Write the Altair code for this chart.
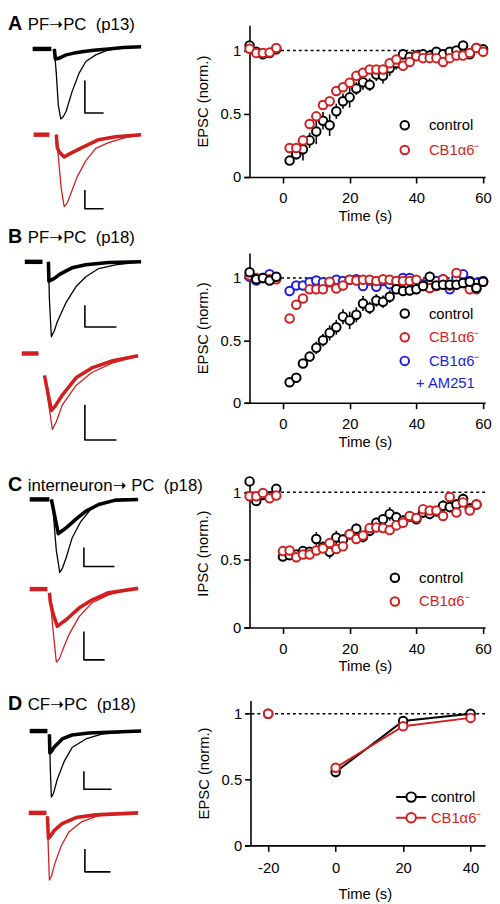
import altair as alt
import pandas as pd

FONT = "Liberation Sans"
BLACK = "#000000"
RED = "#d11f1f"
BLUE = "#1d1dd6"

CTRL = "control"
CB1 = "CB1α6⁻"
CB1AM = "CB1α6⁻ + AM251"
COLORS = {CTRL: BLACK, CB1: RED, CB1AM: BLUE}

# ---------------- right-hand panels: time (s) ----------------
T_AB = [-10, -8, -6, -4, -2, 2, 4, 6, 8, 10, 12, 14, 16, 18, 20, 22, 24, 26, 28, 30,
        32, 34, 36, 38, 40, 42, 44, 46, 48, 50, 52, 54, 56, 58, 60]
T_C = [-10, -8, -6, -4, -2, 0, 2, 4, 6, 8, 10, 12, 14, 16, 18, 20, 22, 24, 26, 28,
       30, 32, 34, 36, 38, 40, 42, 44, 46, 48, 50, 52, 54, 56, 58]
T_D = [-20, 0, 20, 40]

# Panel A: PF->PC (p13), EPSC (norm.)
A_CTRL = [1.04, 0.99, 0.97, 0.98, 1.01,
          0.13, 0.18, 0.22, 0.29, 0.36, 0.445, 0.41, 0.52, 0.60, 0.63,
          0.70, 0.75, 0.73, 0.81, 0.80, 0.86, 0.90, 0.97, 0.95, 0.96,
          0.97, 0.96, 0.99, 0.97, 0.99, 1.00, 1.04, 0.97, 1.02, 1.01]
A_CTRL_SEM = [0.03, 0.02, 0.02, 0.02, 0.02,
              0.03, 0.04, 0.09, 0.06, 0.10, 0.07, 0.085, 0.06, 0.06, 0.08,
              0.05, 0.06, 0.05, 0.05, 0.06, 0.06, 0.05, 0.04, 0.04, 0.04,
              0.04, 0.04, 0.03, 0.03, 0.03, 0.03, 0.03, 0.03, 0.03, 0.03]
A_CB1 = [1.015, 0.98, 0.98, 0.985, 1.02,
         0.23, 0.23, 0.29, 0.42, 0.48, 0.57, 0.60, 0.68, 0.71, 0.745,
         0.80, 0.825, 0.85, 0.85, 0.85, 0.90, 0.93, 0.88, 0.91, 0.955,
         0.94, 0.94, 0.94, 0.91, 0.94, 0.96, 0.96, 0.98, 1.02, 0.99]
A_CB1_SEM = [0.02, 0.02, 0.02, 0.02, 0.02,
             0.03, 0.03, 0.03, 0.04, 0.03, 0.04, 0.03, 0.03, 0.03, 0.03,
             0.03, 0.03, 0.03, 0.03, 0.03, 0.03, 0.03, 0.03, 0.03, 0.03,
             0.03, 0.03, 0.03, 0.03, 0.03, 0.03, 0.03, 0.03, 0.03, 0.03]

# Panel B: PF->PC (p18), EPSC (norm.)
B_CTRL = [1.045, 0.99, 1.00, 0.98, 1.01,
          0.165, 0.20, 0.315, 0.37, 0.44, 0.50, 0.56, 0.605, 0.69, 0.66,
          0.705, 0.795, 0.76, 0.82, 0.81, 0.85, 0.91, 0.895, 0.90, 0.91,
          0.935, 1.01, 0.94, 0.945, 0.945, 0.945, 0.96, 0.97, 0.92, 0.97]
B_CTRL_SEM = [0.02, 0.02, 0.02, 0.02, 0.02,
              0.02, 0.02, 0.03, 0.04, 0.05, 0.05, 0.06, 0.06, 0.06, 0.07,
              0.06, 0.06, 0.05, 0.05, 0.05, 0.05, 0.04, 0.04, 0.04, 0.04,
              0.04, 0.04, 0.03, 0.03, 0.03, 0.03, 0.03, 0.03, 0.04, 0.03]
B_CB1 = [1.02, 1.00, 1.00, 0.99, 0.99,
         0.675, 0.785, 0.835, 0.91, 0.91, 0.91, 0.97, 0.915, 0.94, 0.985,
         0.98, 0.985, 0.985, 0.975, 0.99, 0.985, 0.975, 0.975, 0.975, 0.985,
         0.935, 0.92, 0.935, 0.99, 0.94, 1.04, 0.96, 0.91, 0.91, 0.97]
B_CB1_SEM = [0.015, 0.015, 0.015, 0.015, 0.015,
             0.02, 0.02, 0.02, 0.015, 0.015, 0.015, 0.015, 0.015, 0.015, 0.015,
             0.015, 0.015, 0.015, 0.015, 0.015, 0.015, 0.015, 0.015, 0.015, 0.015,
             0.015, 0.015, 0.015, 0.015, 0.015, 0.015, 0.015, 0.015, 0.015, 0.015]
B_AM = [1.01, 0.98, 1.00, 1.03, 1.00,
        0.895, 0.94, 0.94, 0.965, 0.98, 0.965, 0.965, 0.985, 0.975, 0.985,
        0.99, 0.935, 0.98, 0.93, 0.975, 0.95, 0.96, 1.00, 1.00, 0.96,
        0.95, 0.92, 0.975, 0.99, 0.91, 1.00, 1.03, 0.975, 0.96, 0.975]
B_AM_SEM = [0.015, 0.015, 0.015, 0.015, 0.015,
            0.015, 0.015, 0.015, 0.015, 0.015, 0.015, 0.015, 0.015, 0.015, 0.015,
            0.015, 0.015, 0.015, 0.015, 0.015, 0.015, 0.015, 0.015, 0.015, 0.015,
            0.015, 0.015, 0.015, 0.015, 0.015, 0.015, 0.015, 0.015, 0.015, 0.015]

# Panel C: interneuron->PC (p18), IPSC (norm.)
C_CTRL = [1.08, 0.935, 0.98, 0.97, 1.025,
          0.525, 0.535, 0.54, 0.565, 0.56, 0.655, 0.595, 0.56, 0.665, 0.65,
          0.69, 0.73, 0.67, 0.715, 0.775, 0.80, 0.84, 0.815, 0.79, 0.82,
          0.80, 0.85, 0.84, 0.86, 0.90, 0.89, 0.91, 0.95, 0.88, 0.91]
C_CTRL_SEM = [0.03, 0.03, 0.02, 0.02, 0.02,
              0.03, 0.03, 0.03, 0.03, 0.03, 0.05, 0.04, 0.05, 0.05, 0.04,
              0.04, 0.04, 0.04, 0.04, 0.04, 0.04, 0.05, 0.04, 0.04, 0.04,
              0.03, 0.04, 0.04, 0.04, 0.04, 0.04, 0.04, 0.04, 0.04, 0.04]
C_CB1 = [0.97, 0.97, 0.995, 0.955, 0.975,
         0.565, 0.57, 0.52, 0.54, 0.54, 0.57, 0.585, 0.625, 0.58, 0.60,
         0.69, 0.655, 0.68, 0.735, 0.74, 0.735, 0.72, 0.755, 0.775, 0.825,
         0.81, 0.875, 0.865, 0.865, 0.825, 0.965, 0.85, 0.925, 0.865, 0.91]
C_CB1_SEM = [0.025, 0.025, 0.025, 0.025, 0.025,
             0.025, 0.025, 0.025, 0.025, 0.025, 0.025, 0.025, 0.025, 0.025, 0.025,
             0.025, 0.025, 0.025, 0.025, 0.025, 0.025, 0.025, 0.025, 0.025, 0.025,
             0.025, 0.025, 0.025, 0.025, 0.025, 0.025, 0.025, 0.025, 0.025, 0.025]

# Panel D: CF->PC (p18), EPSC (norm.)
D_CTRL = [1.00, 0.557, 0.945, 1.00]
D_CTRL_SEM = [0.0, 0.04, 0.015, 0.01]
D_CB1 = [1.00, 0.59, 0.905, 0.968]
D_CB1_SEM = [0.0, 0.03, 0.015, 0.015]

# ---------------- left-hand example traces ----------------
# (time in ms from stimulus, current normalised to the larger response)
A_BLACK = {
    "dash": [(-11, 0), (-1.5, 0)],
    "thick": [(0, 0), (0.5, -0.14), (1.5, -0.14), (2.5, -0.13), (6, -0.085), (10, -0.06),
              (14, -0.04), (20, -0.02), (27.5, 0), (35, 0.02), (44, 0.03)],
    "thin": [(0, 0), (1, -0.35), (2, -0.8), (3.25, -1.0), (4.5, -0.97), (6, -0.89), (9, -0.61),
             (12.5, -0.35), (16, -0.18), (21, -0.085), (27.5, -0.015), (39, 0.03), (44, 0.03)],
    "bar": [(15.5, -0.45), (15.5, -0.915), (25, -0.915)],
}
A_RED = {
    "dash": [(-10.5, 0), (-2.5, 0)],
    "thick": [(1, 0), (1.5, -0.18), (2.5, -0.24), (5, -0.31), (7.5, -0.27), (14, -0.18),
              (22.5, -0.07), (31, -0.03), (44, 0)],
    "thin": [(1, 0), (2, -0.3), (3.5, -0.75), (5, -1.0), (6.5, -0.95), (8.5, -0.81), (11.5, -0.59),
             (16, -0.36), (21, -0.19), (27.5, -0.11), (36, -0.04), (44, -0.01)],
    "bar": [(15.5, -0.77), (15.5, -1.03), (25, -1.03)],
}
B_BLACK = {
    "dash": [(-11.5, 0), (-2.5, 0)],
    "thick": [(0.5, 0), (0.75, -0.26), (2, -0.24), (3.5, -0.22), (6, -0.17), (9.5, -0.12),
              (12.5, -0.08), (19.5, -0.04), (31, -0.01), (47.5, 0)],
    "thin": [(0.5, 0), (1, -0.5), (2, -1.0), (3.5, -0.92), (5, -0.8), (9.5, -0.54), (14.5, -0.33),
             (19.5, -0.2), (26, -0.09), (34.5, -0.04), (47.5, 0)],
    "bar": [(19, -0.58), (19, -0.87), (35, -0.87)],
}
B_RED = {
    "dash": [(-13, 0), (-4.5, 0)],
    "thick": [(-1.5, -0.29), (2, -0.75), (4, -0.69), (7.5, -0.55), (14.5, -0.32), (22.5, -0.19),
              (32.5, -0.1), (46, -0.03)],
    "thin": [(-1.5, -0.29), (2.5, -1.0), (4.5, -0.9), (7.5, -0.68), (14.5, -0.42), (22.5, -0.25),
             (32.5, -0.13), (46, -0.03)],
    "bar": [(19, -0.675), (19, -1.14), (35, -1.14)],
}
C_BLACK = {
    "dash": [(-10.5, 0), (-0.5, 0)],
    "thick": [(0.5, 0), (2, -0.2), (4, -0.47), (6, -0.43), (8, -0.39), (13, -0.27), (18, -0.16),
              (24.5, -0.07), (33, -0.01), (44.5, 0)],
    "thin": [(0.5, 0), (1.5, -0.2), (3, -0.7), (4.75, -1.0), (6, -0.95), (8, -0.8), (11, -0.53),
             (15.5, -0.3), (20.5, -0.135), (26, -0.05), (34.5, -0.01), (44.5, 0)],
    "bar": [(17, -0.66), (17, -0.92), (32.5, -0.92)],
}
C_RED = {
    "dash": [(-10.5, 0), (-1.5, 0)],
    "thick": [(-0.5, -0.05), (0, -0.18), (1.5, -0.35), (3.5, -0.51), (5.5, -0.47), (8, -0.42),
              (14.5, -0.26), (21, -0.15), (29.5, -0.05), (44.5, 0.01)],
    "thin": [(0, -0.18), (1.5, -0.6), (3, -1.0), (4.5, -0.96), (6, -0.85), (9.5, -0.62),
             (14.5, -0.38), (21, -0.19), (29.5, -0.08), (41, 0), (44.5, 0.01)],
    "bar": [(17, -0.58), (17, -0.97), (27.5, -0.97)],
}
D_BLACK = {
    "dash": [(-9.5, 0), (-0.5, 0)],
    "thick": [(0.5, -0.05), (0.75, -0.33), (1.5, -0.31), (3, -0.24), (7, -0.12), (12, -0.06),
              (20.5, -0.03), (47, 0)],
    "thin": [(0.5, -0.05), (1, -0.6), (1.5, -1.0), (2.5, -0.95), (4.5, -0.73), (8, -0.46),
             (12, -0.25), (19, -0.12), (27, -0.045), (39, -0.015), (47, 0)],
    "bar": [(18, -0.61), (18, -0.88), (32, -0.88)],
}
D_RED = {
    "dash": [(-10, 0), (-1, 0)],
    "thick": [(-0.5, -0.05), (0, -0.38), (1, -0.35), (3, -0.26), (7, -0.16), (14, -0.07),
              (24, -0.03), (45.5, 0)],
    "thin": [(-0.5, -0.05), (0, -0.6), (0.5, -1.0), (1.5, -0.95), (3, -0.78), (6.5, -0.49),
             (10.5, -0.28), (17, -0.13), (25.5, -0.04), (39, -0.015), (45.5, 0)],
    "bar": [(18.5, -0.54), (18.5, -0.88), (31.5, -0.88)],
}

LETTERS = ["A", "B", "C", "D"]
HEADINGS = ["PF\u279dPC\u00a0\u00a0(p13)", "PF\u279dPC\u00a0\u00a0(p18)",
            "interneuron\u279d PC\u00a0\u00a0(p18)", "CF\u279dPC\u00a0\u00a0(p18)"]


def trace_group(sets, color, tdom, yrange):
    rows = []
    for kind, pts in sets.items():
        for k, (t, i) in enumerate(pts):
            rows.append({"t": t, "i": i, "k": k, "kind": kind})
    df = pd.DataFrame(rows)
    x = alt.X("t:Q", scale=alt.Scale(domain=tdom, nice=False, zero=False), axis=None)
    y = alt.Y("i:Q", scale=alt.Scale(domain=[-1, 0], range=yrange, nice=False, zero=False), axis=None)
    styles = [("thin", 1.3, color), ("thick", 3.6, color), ("dash", 4.5, color), ("bar", 1.6, BLACK)]
    layers = []
    for kind, w, c in styles:
        layers.append(
            alt.Chart(df).transform_filter(alt.datum.kind == kind)
            .mark_line(color=c, strokeWidth=w, strokeJoin="round", strokeCap="butt")
            .encode(x=x, y=y, order="k:Q")
        )
    return alt.layer(*layers)


def trace_panel(idx, black, red, tdom, height, black_rng, red_rng, title_y):
    lab = pd.DataFrame({"letter": [LETTERS[idx]], "heading": [HEADINGS[idx]]})
    t1 = alt.Chart(lab).mark_text(align="left", baseline="alphabetic", font=FONT, fontSize=20,
                                  fontWeight="bold", color=BLACK).encode(
        x=alt.value(0), y=alt.value(title_y), text="letter:N")
    t2 = alt.Chart(lab).mark_text(align="left", baseline="alphabetic",
                                  font="Liberation Sans, DejaVu Sans", fontSize=17,
                                  color=BLACK).encode(
        x=alt.value(20), y=alt.value(title_y), text="heading:N")
    return alt.layer(
        trace_group(black, BLACK, tdom, black_rng),
        trace_group(red, RED, tdom, red_rng),
        t1, t2,
    ).resolve_scale(y="independent").properties(
        width=240, height=height, view=alt.ViewBackground(stroke=None, strokeWidth=0))


def scatter_panel(times, series, draw_order, ytitle, ydom, height, xdom, xticks, yoff,
                  leg, xtitle_pad=3, xlabel_pad=8, connect=False, extra=None):
    rows = []
    for g, means, sems in series:
        for t, m, s in zip(times, means, sems):
            rows.append({"t": t, "m": m, "s": s, "g": g})
    df = pd.DataFrame(rows)
    dom = [g for g, _, _ in series]
    sscale = alt.Scale(domain=dom, range=[COLORS[g] for g in dom])
    legend = alt.Legend(
        title=None, orient="none", legendX=leg["x"], legendY=leg["y"], padding=0,
        symbolType=leg.get("symbol", "circle"), symbolSize=leg.get("size", 75),
        symbolStrokeWidth=2, symbolFillColor="white", labelFont=FONT, labelFontSize=15,
        labelOffset=leg.get("offset", 17), rowPadding=leg["rowpad"],
        labelColor={"expr": "datum.value == 'control' ? '#000000' : indexof(datum.value, 'AM251') >= 0 ? '%s' : '%s'" % (BLUE, RED)},
        labelExpr="indexof(datum.value, 'AM251') >= 0 ? '%s' : datum.value" % CB1,
    )
    xenc = alt.X("t:Q", scale=alt.Scale(domain=xdom, nice=False, zero=False),
                 axis=alt.Axis(values=xticks, title="Time (s)", labelExpr="'' + datum.value",
                               titlePadding=xtitle_pad, labelPadding=xlabel_pad))
    yscale = alt.Scale(domain=ydom, nice=False, zero=False)
    yaxis = alt.Axis(values=[0, 0.5, 1], format="~g", title=ytitle, offset=yoff)
    stroke = alt.Stroke("g:N", scale=sscale, legend=legend)

    ref = alt.Chart(pd.DataFrame({"ref": [1.0]})).mark_rule(
        strokeDash=[3, 3], strokeWidth=1.6, color=BLACK).encode(y=alt.datum(1, scale=yscale))
    base = alt.Chart(df)
    err = base.transform_calculate(lo="datum.m - datum.s", hi="datum.m + datum.s").mark_rule(
        strokeWidth=1.6).encode(x=xenc, y=alt.Y("lo:Q", scale=yscale, axis=yaxis), y2="hi:Q",
                                stroke=stroke)
    layers = [ref, err]
    if connect:
        layers.append(base.transform_filter("datum.t >= 0").mark_line(strokeWidth=2).encode(
            x=xenc, y=alt.Y("m:Q", scale=yscale, axis=yaxis), stroke=stroke))
    for g in draw_order:
        layers.append(
            base.transform_filter(alt.datum.g == g).mark_point(
                shape="circle", size=75, strokeWidth=2, fill="white", fillOpacity=1, opacity=1)
            .encode(x=xenc, y=alt.Y("m:Q", scale=yscale, axis=yaxis), stroke=stroke)
        )
    if extra is not None:
        layers.append(
            alt.Chart(pd.DataFrame({"txt": [extra["text"]]})).mark_text(
                align="left", baseline="middle", font=FONT, fontSize=15, color=extra["color"])
            .encode(x=alt.value(extra["x"]), y=alt.value(extra["y"]), text="txt:N")
        )
    return alt.layer(*layers).properties(width=244, height=height)


XDOM = [-11.5, 60.6]
XT = [0, 20, 40, 60]

trA = trace_panel(0, A_BLACK, A_RED, [-23.5, 96.5], 231, [95, 24], [184, 111], 5)
scA = scatter_panel(T_AB, [(CTRL, A_CTRL, A_CTRL_SEM), (CB1, A_CB1, A_CB1_SEM)], [CTRL, CB1],
                    "EPSC (norm.)", [0, 1.2], 154, XDOM, XT, -5,
                    {"x": 155, "y": 94, "rowpad": 8})

trB = trace_panel(1, B_BLACK, B_RED, [-20, 100], 229, [85, 9], [179, 102], -10)
scB = scatter_panel(T_AB, [(CTRL, B_CTRL, B_CTRL_SEM), (CB1, B_CB1, B_CB1_SEM),
                           (CB1AM, B_AM, B_AM_SEM)], [CB1AM, CB1, CTRL],
                    "EPSC (norm.)", [0, 1.2], 152, XDOM, XT, -5,
                    {"x": 155, "y": 54, "rowpad": 7},
                    extra={"text": "+ AM251", "x": 174, "y": 132, "color": BLUE})

trC = trace_panel(2, C_BLACK, C_RED, [-21.5, 98.5], 225, [95, 21], [186, 112], 12)
scC = scatter_panel(T_C, [(CTRL, C_CTRL, C_CTRL_SEM), (CB1, C_CB1, C_CB1_SEM)], [CTRL, CB1],
                    "IPSC (norm.)", [0, 1.1], 151, XDOM, XT, -5,
                    {"x": 145, "y": 93, "rowpad": 7})

trD = trace_panel(3, D_BLACK, D_RED, [-20.5, 99.5], 147, [98, 31], [182, 114], 10)
scD = scatter_panel(T_D, [(CTRL, D_CTRL, D_CTRL_SEM), (CB1, D_CB1, D_CB1_SEM)], [CTRL, CB1],
                    "EPSC (norm.)", [0, 1.1], 147, [-27, 44.3], [-20, 0, 20, 40], -6,
                    {"x": 160, "y": 89, "rowpad": 3, "size": 256, "offset": 11,
                     "symbol": "M-1.9,0L-0.6,0M0.6,0L1.9,0M0.6,0A0.6,0.6,0,1,1,-0.6,0A0.6,0.6,0,1,1,0.6,0"},
                    xtitle_pad=12, xlabel_pad=9, connect=True)

chart = alt.concat(trA, scA, trB, scB, trC, scC, trD, scD, columns=2, spacing=0,
                   bounds="flush", padding=0).resolve_scale(
    x="independent", y="independent", stroke="independent"
).configure(font=FONT).configure_view(stroke=None, strokeWidth=0).configure_axis(
    grid=False, domainColor=BLACK, domainWidth=1.6, tickColor=BLACK, tickWidth=1.6, tickSize=6,
    labelFont=FONT, labelFontSize=15, labelColor=BLACK, titleFont=FONT, titleFontSize=15,
    titleFontWeight="normal", titleColor=BLACK,
).configure_axisY(labelPadding=3, titlePadding=10)

chart.save("out.html", embed_options={"renderer": "svg", "actions": False})
